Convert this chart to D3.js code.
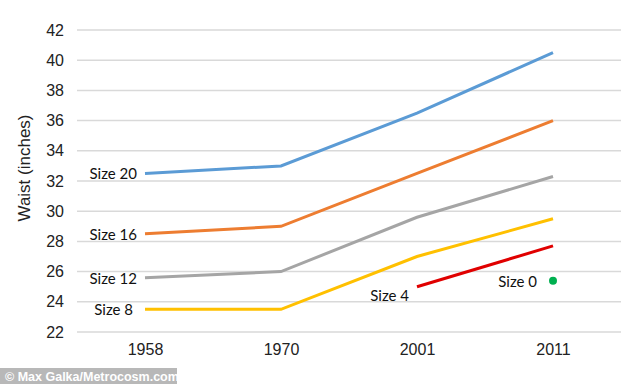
<!DOCTYPE html>
<html>
<head>
<meta charset="utf-8">
<script src="https://cdn.jsdelivr.net/npm/d3@7"></script>
<style>
  body { margin: 0; background: #fff; }
  .tick text { font-family: "Liberation Sans", Arial, sans-serif; font-size: 16px; fill: #222; }
  .lbl { font-family: Lato, "Open Sans", sans-serif; font-size: 15px; fill: #111; }
</style>
</head>
<body>
<div id="chart"></div>
<script>
// chart data
var years = ["1958", "1970", "2001", "2011"];
var yTicks = [22, 24, 26, 28, 30, 32, 34, 36, 38, 40, 42];

var size20 = [32.5, 33, 36.5, 40.5];
var size16 = [28.5, 29, 32.5, 36];
var size12 = [25.6, 26, 29.6, 32.3];
var size8  = [23.5, 23.5, 27, 29.5];
var size4  = [null, null, 25, 27.7];
var size0  = [null, null, null, 25.4];

var series = [
    {name: "Size 20", values: size20, color: "#5b9bd5"},
    {name: "Size 16", values: size16, color: "#ed7d31"},
    {name: "Size 12", values: size12, color: "#a5a5a5"},
    {name: "Size 8",  values: size8,  color: "#ffc000"},
    {name: "Size 4",  values: size4,  color: "#e00000"}
];

var svg = d3.select("#chart").append("svg").attr("width", 634).attr("height", 384),
    margin = {top: 30, right: 13, bottom: 52, left: 77},
    width = +svg.attr("width") - margin.left - margin.right,
    height = +svg.attr("height") - margin.top - margin.bottom,
    g = svg.append("g").attr("transform", "translate(" + margin.left + "," + margin.top + ")");

var x = d3.scalePoint().domain(years).range([0, width]).padding(0.5);
var y = d3.scaleLinear().domain([22, 42]).range([height, 0]);

// gridlines
g.selectAll(".grid")
    .data(yTicks)
    .enter().append("line")
    .attr("x1", 0).attr("x2", width)
    .attr("y1", function (d) { return y(d); })
    .attr("y2", function (d) { return y(d); })
    .attr("stroke", "#d9d9d9")
    .attr("stroke-width", 1.5);

var yAxis = g.append("g")
    .call(d3.axisLeft(y).tickValues(yTicks).tickSize(0).tickPadding(13));
yAxis.select(".domain").remove();

var xAxis = g.append("g")
    .attr("transform", "translate(0," + height + ")")
    .call(d3.axisBottom(x).tickSize(0).tickPadding(12));
xAxis.select(".domain").remove();

svg.append("text")
    .attr("transform", "translate(30," + (margin.top + height / 2 - 13) + ") rotate(-90)")
    .attr("text-anchor", "middle")
    .style("font-family", "'Liberation Sans', Arial, sans-serif")
    .style("font-size", "17px")
    .style("fill", "#222")
    .text("Waist (inches)");

var line = d3.line()
    .defined(function (d) { return d != null; })
    .x(function (d, i) { return x(years[i]); })
    .y(function (d) { return y(d); });

series.forEach(function (s) {
    g.append("path")
        .datum(s.values)
        .attr("fill", "none")
        .attr("stroke", s.color)
        .attr("stroke-width", 3)
        .attr("d", line);

    var first = s.values.findIndex(function (v) { return v != null; });
    var dy = s.name === "Size 4" ? 14 : 6;
    g.append("text")
        .attr("class", "lbl")
        .attr("x", x(years[first]) - (s.name === "Size 8" ? 12 : 8))
        .attr("y", y(s.values[first]) + dy)
        .attr("text-anchor", "end")
        .text(s.name);
});

// size 0 single point
size0.forEach(function (v, i) {
    if (v == null) return;
    g.append("circle")
        .attr("cx", x(years[i]))
        .attr("cy", y(v))
        .attr("r", 4)
        .attr("fill", "#00b050");
    g.append("text")
        .attr("class", "lbl")
        .attr("x", x(years[i]) - 16)
        .attr("y", y(v) + 6)
        .attr("text-anchor", "end")
        .text("Size 0");
});

// credit
svg.append("rect")
    .attr("x", 0).attr("y", 368).attr("width", 177).attr("height", 16)
    .attr("fill", "#b8b8b8");
svg.append("text")
    .attr("x", 5).attr("y", 380.5)
    .style("font-family", "'Liberation Sans', Arial, sans-serif")
    .style("font-size", "12.5px")
    .style("font-weight", "bold")
    .style("fill", "#fff")
    .text("© Max Galka/Metrocosm.com");
</script>
</body>
</html>
